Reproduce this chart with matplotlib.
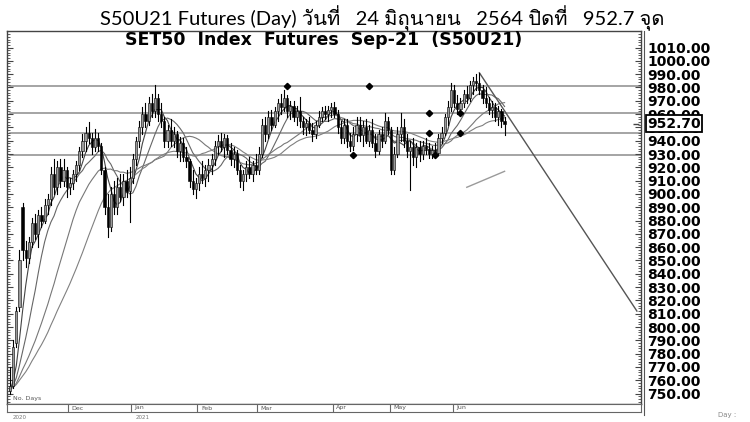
import matplotlib
matplotlib.use('Agg')
import matplotlib.pyplot as plt
import pandas as pd
from matplotlib import font_manager, ft2font
from matplotlib.lines import Line2D

# closes before the first drawn bar (late Oct 2020), only used to seed the averages
pre_closes = [758, 752, 749, 755, 760, 757, 750, 746, 752, 756,
              761, 758, 753, 749, 751, 755, 759, 762, 757, 752,
              748, 750, 754, 757, 753, 749, 751, 754, 752, 750]

# daily bars, index 0 = early Nov 2020 ... 157 = 24 Jun 2021
opens = [752, 756, 788, 815, 890, 858, 852, 864, 878, 870,
         884, 880, 892, 896, 915, 905, 920, 910, 918, 905,
         908, 915, 922, 932, 940, 946, 942, 935, 942, 936,
         918, 890, 875, 900, 890, 905, 898, 910, 902, 912,
         926, 940, 950, 960, 955, 968, 962, 972, 960, 955,
         940, 948, 940, 945, 932, 938, 928, 925, 910, 904,
         908, 915, 912, 918, 922, 926, 936, 940, 935, 942,
         933, 926, 930, 918, 910, 915, 920, 915, 922, 918,
         930, 952, 945, 958, 952, 962, 968, 965, 972, 962,
         966, 958, 962, 955, 950, 953, 948, 945, 952, 958,
         962, 960, 963, 965, 960, 950, 942, 952, 940, 936,
         945, 952, 944, 950, 940, 948, 938, 932, 945, 940,
         955, 948, 918, 930, 945, 950, 940, 932, 935, 928,
         935, 930, 936, 934, 930, 933, 931, 942, 946, 958,
         965, 978, 968, 964, 968, 975, 972, 982, 985, 983,
         978, 972, 968, 963, 965, 958, 962, 955]
highs = [770, 790, 815, 858, 893, 865, 868, 882, 885, 888,
         890, 896, 900, 920, 926, 925, 926, 926, 920, 912,
         918, 925, 935, 945, 950, 954, 946, 949, 946, 938,
         920, 900, 905, 910, 912, 915, 915, 918, 920, 930,
         943, 955, 965, 968, 973, 975, 982, 975, 968, 958,
         952, 956, 950, 947, 943, 942, 935, 926, 918, 912,
         920, 925, 922, 926, 930, 940, 944, 946, 945, 944,
         938, 935, 933, 922, 918, 925, 928, 925, 930, 935,
         956, 958, 962, 963, 965, 971, 975, 978, 974, 970,
         970, 966, 973, 958, 956, 958, 953, 955, 962, 965,
         966, 966, 968, 969, 963, 955, 956, 956, 946, 950,
         958, 958, 955, 956, 952, 956, 945, 948, 950, 961,
         958, 950, 935, 950, 961, 956, 945, 940, 942, 938,
         940, 940, 942, 938, 936, 938, 945, 950, 960, 970,
         983, 982, 974, 972, 978, 981, 985, 988, 990, 991,
         982, 980, 973, 970, 968, 966, 964, 958]
lows = [750, 754, 785, 812, 850, 845, 848, 860, 866, 860,
        875, 878, 885, 892, 900, 900, 905, 906, 898, 900,
        904, 910, 918, 928, 932, 938, 930, 932, 932, 915,
        885, 868, 872, 885, 885, 895, 892, 898, 879, 908,
        922, 935, 945, 950, 952, 958, 958, 955, 950, 935,
        935, 936, 935, 928, 925, 925, 920, 905, 900, 897,
        903, 908, 906, 910, 915, 922, 930, 932, 928, 930,
        922, 920, 915, 905, 903, 910, 912, 910, 915, 915,
        928, 940, 942, 948, 950, 955, 960, 962, 958, 956,
        955, 952, 950, 945, 944, 946, 940, 942, 950, 955,
        956, 955, 958, 958, 946, 938, 938, 935, 932, 933,
        940, 940, 936, 938, 936, 935, 928, 930, 935, 938,
        945, 915, 915, 928, 940, 935, 928, 903, 922, 920,
        925, 926, 930, 927, 927, 928, 929, 938, 944, 952,
        962, 965, 960, 960, 965, 968, 970, 975, 978, 975,
        968, 965, 960, 958, 955, 952, 950, 944]
closes = [756, 785, 812, 850, 858, 852, 864, 878, 870, 884,
          880, 892, 896, 915, 905, 920, 910, 918, 905, 908,
          915, 922, 932, 940, 946, 942, 935, 942, 936, 918,
          890, 875, 900, 890, 905, 898, 910, 902, 912, 926,
          940, 950, 960, 955, 968, 962, 972, 960, 955, 940,
          948, 940, 945, 932, 938, 928, 925, 910, 904, 908,
          915, 912, 918, 922, 926, 936, 940, 935, 942, 933,
          926, 930, 918, 910, 915, 920, 915, 922, 918, 930,
          952, 945, 958, 952, 962, 968, 965, 972, 962, 966,
          958, 962, 955, 950, 953, 948, 945, 952, 958, 962,
          960, 963, 965, 960, 950, 942, 952, 940, 936, 945,
          952, 944, 950, 940, 948, 938, 932, 945, 940, 955,
          948, 918, 930, 945, 950, 940, 932, 935, 928, 935,
          930, 936, 934, 930, 933, 931, 942, 946, 958, 965,
          978, 968, 964, 968, 975, 972, 982, 985, 983, 978,
          972, 968, 963, 965, 958, 962, 955, 952.7]

ma_windows = [5, 10, 20, 30]
levels = [981, 961, 946, 929]
level_mark_x = [88, 114, 133, 143, 133, 143, 109, 135]
level_mark_y = [981, 981, 961, 961, 946, 946, 929, 929]
trend_x = [149, 199]
trend_y = [991, 812]
seg_x = [145, 157]
seg_y = [905, 917]
last_price = 952.7

month_names = ['Dec', 'Jan', 'Feb', 'Mar', 'Apr', 'May', 'Jun']
month_start = [19, 39, 60, 79, 103, 121, 141]
years = ['2020', '2021']
year_start = [0, 39]
price_ticks = list(range(750, 1011, 10))


def find_thai_font():
    for f in font_manager.fontManager.ttflist:
        try:
            if ft2font.FT2Font(f.fname).get_char_index(ord('ว')):
                return f.name
        except Exception:
            pass
    return 'DejaVu Sans'


thai = find_thai_font()

fig = plt.figure(figsize=(7.5, 4.22), dpi=100)
W, H = 750, 422
ax = fig.add_axes([7 / W, 18 / H, 634 / W, 373 / H])
ax.set_xlim(-0.95, 200.3)
ax.set_ylim(742.2, 1022.4)

# support / resistance levels
for lv in levels:
    ax.plot([0, 201], [lv, lv], color='#8c8c8c', lw=1.1, zorder=1)
ax.plot(level_mark_x, level_mark_y, 'D', color='black', ms=3.2, ls='none', zorder=5)

# simple moving averages
s = pd.Series(pre_closes + closes)
n_pre = len(pre_closes)
ma_colors = ['#444444', '#666666', '#777777', '#808080']
for win, c in zip(ma_windows, ma_colors):
    ma = s.rolling(win, min_periods=1).mean().iloc[n_pre:]
    ax.plot(range(len(closes)), ma.values, color=c, lw=0.8, zorder=2)

# candles
for i, (o, h, l, c) in enumerate(zip(opens, highs, lows, closes)):
    ax.plot([i, i], [l, h], color='black', lw=0.8, zorder=3)
    face = '#9a9a9a' if c >= o else 'black'
    ax.bar(i, abs(c - o) or 0.6, bottom=min(o, c), width=0.7,
           color=face, edgecolor='black', lw=0.4, zorder=4)

ax.plot(trend_x, trend_y, color='#555555', lw=1.0, zorder=2)
ax.plot(seg_x, seg_y, color='#9a9a9a', lw=1.0, zorder=2)

# axes styling
for sp in ax.spines.values():
    sp.set_color('#444444')
    sp.set_linewidth(1.0)
ax.set_xticks([])
ax.yaxis.tick_right()
ax.set_yticks(price_ticks)
ax.set_yticklabels(['%.2f' % v for v in price_ticks])
ax.set_yticks(range(744, 1022, 2), minor=True)
ax.tick_params(axis='y', which='both', direction='in', left=True, right=True,
               colors='#444444', labelcolor='black', pad=4.5)
ax.tick_params(axis='y', which='major', length=4)
ax.tick_params(axis='y', which='minor', length=2)
for t in ax.get_yticklabels():
    t.set_fontfamily('DejaVu Sans')
    t.set_fontweight('bold')
    t.set_fontsize(10)

ax.annotate('%.2f' % last_price, xy=(1, last_price), xycoords=('axes fraction', 'data'),
            xytext=(4.5, 0), textcoords='offset points', va='center', ha='left',
            fontsize=10, fontweight='bold', family='DejaVu Sans',
            bbox=dict(boxstyle='square,pad=0.1', fc='white', ec='black', lw=1.3),
            annotation_clip=False, zorder=10)
ax.plot([198.8], [last_price], marker='_', color='#444444', ms=4, clip_on=False)

ax.text(0.5, 0.999, 'SET50  Index  Futures  Sep-21  (S50U21)', transform=ax.transAxes,
        ha='center', va='top', fontsize=12.5, fontweight='bold', family='DejaVu Sans')
ax.text(1, 744.5, 'No. Days', fontsize=4.5, color='#555555', va='bottom')

# date strip
dx = fig.add_axes([7 / W, 10 / H, 634 / W, 8 / H])
dx.set_xlim(ax.get_xlim())
dx.set_ylim(0, 1)
dx.set_xticks([])
dx.set_yticks([])
for sp in dx.spines.values():
    sp.set_color('#666666')
    sp.set_linewidth(0.8)
for m, st in zip(month_names, month_start):
    dx.axvline(st - 0.5, color='#666666', lw=0.8)
    dx.text(st + 0.6, 0.5, m, fontsize=4.5, va='center', color='#555555')
for y, st in zip(years, year_start):
    dx.text(st + 1, -0.35, y, fontsize=4, va='top', color='#777777')

fig.add_artist(Line2D([644 / W, 644 / W], [7 / H, 391 / H], color='#555555', lw=0.8))
fig.text(718 / W, 5 / H, 'Day :', fontsize=5, color='#888888')

fig.text(0.51, 0.958, 'S50U21 Futures (Day) วันที่   24 มิถุนายน   2564 ปิดที่   952.7 จุด',
         ha='center', va='center', fontsize=14.5, family=['Lato', thai, 'DejaVu Sans'])

fig.savefig('out.png', dpi=100, facecolor='white')
